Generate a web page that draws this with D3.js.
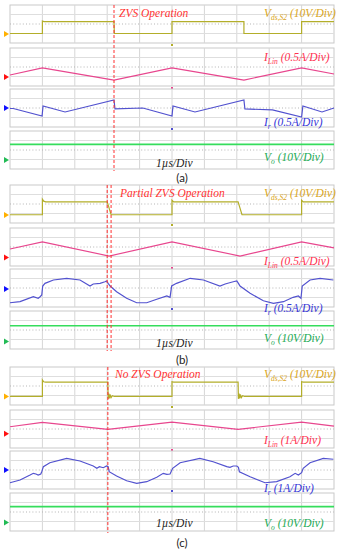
<!DOCTYPE html>
<html>
  <head>
    <title>ZVS waveforms</title>
    <style>
      body { margin: 0; background: #fff; }
    </style>
  </head>
  <body>
    <div id="chart"></div>
  </body>
  <script src="https://d3js.org/d3.v7.min.js"></script>
  <script>

    // ---- data (time in us, amplitude in screen divisions of each strip) ----
    let panelNames = ["(a)", "(b)", "(c)"];
    let modeLabels = ["ZVS Operation", "Partial ZVS Operation", "No ZVS Operation"];
    let iLinScales = ["(0.5A/Div)", "(0.5A/Div)", "(1A/Div)"];
    let irScales = ["(0.5A/Div)", "(0.5A/Div)", "(1A/Div)"];
    let cursorTimes = [[3.21], [3.0, 3.12], [3.02]];
    // ground markers on the left: Vds, ILin, Ir, Vo
    let markerLevels = [
      [-1.05, -1.05, 0, -1.05],
      [-1.15, -1.1, -0.1, -1.2],
      [-1.1, -0.5, 0, -1.1]
    ];
    let voLevels = [0.6, 0.45, 0.56];

    let vdsA = [[0,-1.0],[1.0,-1.0],[1.0,0.3],[1.05,0.25],[3.21,0.25],[3.22,-1.0],[5.0,-1.0],[5.0,0.25],
      [7.22,0.25],[7.22,-1.0],[9.0,-1.0],[9.0,0.25],[10,0.25]];
    let vdsB = [[0,-1.13],[1.0,-1.13],[1.0,0.5],[1.04,0.3],[1.1,0.22],[3.0,0.22],[3.12,-1.13],[5.0,-1.13],
      [5.0,0.4],[5.05,0.22],[7.04,0.22],[7.16,-1.13],[9.0,-1.13],[9.0,0.4],[9.05,0.22],[10,0.22]];
    let vdsC = [[0,-1.1],[1.0,-1.1],[1.0,0.65],[1.04,0.45],[1.1,0.4],[3.02,0.4],[3.03,-1.35],[3.05,-0.8],
      [3.07,-1.3],[3.09,-0.9],[3.12,-1.22],[3.16,-1.02],[3.22,-1.1],[5.0,-1.1],[5.0,0.45],[5.05,0.4],
      [7.04,0.4],[7.05,-1.35],[7.07,-0.8],[7.09,-1.3],[7.11,-0.9],[7.14,-1.22],[7.18,-1.02],[7.24,-1.1],
      [9.0,-1.1],[9.0,0.45],[9.05,0.4],[10,0.4]];

    let iLinA = [[0,-0.84],[1.0,-0.1],[3.21,-1.37],[5.0,-0.1],[7.22,-1.37],[9.0,-0.1],[10,-0.74]];
    let iLinB = [[0,-0.21],[1.0,0.53],[3.06,-0.95],[5.0,0.53],[7.1,-0.95],[9.0,0.53],[10,-0.1]];
    let iLinC = [[0,0.24],[1.0,0.7],[3.02,-0.03],[5.0,0.72],[7.04,-0.03],[9.0,0.72],[10,0.3]];

    let irA = [[0,-0.05],[0.1,-0.05],[0.99,-0.84],[1.02,0.21],[1.7,-0.42],[3.21,0.84],[3.24,-0.1],[4.1,0],
      [5.0,-0.84],[5.03,0.21],[5.71,-0.42],[7.22,0.84],[7.25,-0.1],[8.1,-0.2],[9.0,-0.95],[9.04,0.21],
      [9.63,-0.42],[10,0]];
    let irB = [[0,-1.55],[0.31,-1.44],[0.72,-0.92],[0.87,-1.08],[0.93,-0.92],[0.98,-0.74],[1.01,0.21],
      [1.08,0.49],[1.34,0.84],[1.75,1.02],[2.16,0.84],[2.47,0.21],[2.57,0.42],[2.78,0.49],[2.93,0.66],
      [2.98,0.74],[3.03,0.49],[3.09,0.21],[3.29,-0.39],[3.6,-1.08],[3.91,-1.55],[4.22,-1.55],[4.53,-1.19],
      [4.84,-0.84],[4.94,-0.98],[4.99,0.21],[5.14,0.49],[5.56,1.02],[5.97,0.84],[6.48,0.21],[6.64,0.42],
      [6.89,0.66],[7.0,0.74],[7.05,0.49],[7.1,0.21],[7.41,-0.56],[7.82,-1.34],[8.13,-1.61],[8.44,-1.44],
      [8.74,-0.98],[8.9,-0.84],[8.98,-1.08],[9.02,0.21],[9.26,0.84],[9.57,1.02],[9.98,0.84]];
    let irC = [[0,-1.34],[0.31,-1.05],[0.62,-0.53],[0.72,-0.35],[0.8,-0.42],[0.87,-0.53],[0.95,-0.42],
      [0.98,-0.18],[1.03,0.35],[1.23,0.77],[1.75,1.23],[2.16,0.95],[2.57,0.42],[2.68,0.18],[2.76,0.35],
      [2.88,0.24],[2.98,0.42],[3.03,0.35],[3.06,-0.18],[3.29,-0.63],[3.6,-1.13],[3.91,-1.4],[4.22,-1.23],
      [4.53,-0.77],[4.73,-0.35],[4.84,-0.45],[4.94,-0.42],[5.02,0.18],[5.25,0.77],[5.86,1.23],[6.27,0.87],
      [6.69,0.35],[6.79,0.28],[6.89,0.42],[7.0,0.42],[7.05,0.28],[7.08,-0.18],[7.41,-0.71],[7.87,-1.34],
      [8.23,-1.23],[8.64,-0.71],[8.8,-0.35],[8.9,-0.53],[9.0,-0.28],[9.05,0.18],[9.26,0.77],[9.67,1.23],
      [9.98,1.13]];

    let vdsData = [vdsA, vdsB, vdsC];
    let iLinData = [iLinA, iLinB, iLinC];
    let irData = [irA, irB, irC];

    // ---- layout ----
    let width = 339, height = 550;
    let panelTops = [5, 185, 367];
    let stripOffsets = [0, 43, 84, 126];
    let stripH = 38;
    let traceColors = ["#b3ae2a", "#e8468e", "#5252cf", "#35dd5c"];
    let markerColors = ["#ffb000", "#ff1010", "#1010ff", "#22bb55"];
    let labelColors = ["#daa520", "#ff3050", "#3535d8", "#22aa55"];
    // label centre lines relative to panel top: mode, ILin, Ir, Vo, time/div
    let labelY = [
      [8, 52, 117, 152, 158],
      [8, 76, 123, 153, 158],
      [7, 73, 121, 156, 156]
    ];
    let modeX = [119, 120, 115];
    let captionY = [182, 364, 547];

    let xScale = d3.scaleLinear().domain([0, 10]).range([10, 334]);

    let svg = d3.select("#chart").append("svg")
      .attr("width", width)
      .attr("height", height)
      .style("font-family", "'Liberation Serif', serif");

    panelTops.forEach(function(top, p) {
      let g = svg.append("g");

      stripOffsets.forEach(function(off, s) {
        let y0 = top + off;
        let yScale = d3.scaleLinear().domain([-2, 2]).range([y0 + stripH, y0]);

        // grid
        g.append("rect")
          .attr("x", xScale(0)).attr("y", y0)
          .attr("width", xScale(10) - xScale(0)).attr("height", stripH)
          .attr("fill", "none").attr("stroke", "#c9c9c9").attr("stroke-width", 1);
        g.selectAll(null).data(d3.range(1, 10)).enter().append("line")
          .attr("x1", d => xScale(d)).attr("x2", d => xScale(d))
          .attr("y1", y0).attr("y2", y0 + stripH)
          .attr("stroke", "#d6d6d6");
        g.selectAll(null).data([-1, 1]).enter().append("line")
          .attr("x1", xScale(0)).attr("x2", xScale(10))
          .attr("y1", d => yScale(d)).attr("y2", d => yScale(d))
          .attr("stroke", "#dedede");
        g.append("line")
          .attr("x1", xScale(0)).attr("x2", xScale(10))
          .attr("y1", yScale(0)).attr("y2", yScale(0))
          .attr("stroke", "#b5b5b5").attr("stroke-dasharray", "1,2.2");

        // ground marker
        let my = yScale(markerLevels[p][s]);
        g.append("path")
          .attr("d", `M4,${my - 3}L9,${my}L4,${my + 3}Z`)
          .attr("fill", markerColors[s]);

        // trace
        let line = d3.line().x(d => xScale(d[0])).y(d => yScale(d[1]));
        let pts;
        if (s === 0) pts = vdsData[p];
        else if (s === 1) pts = iLinData[p];
        else if (s === 2) pts = irData[p];
        else pts = [[0, voLevels[p]], [10, voLevels[p]]];
        g.append("path")
          .attr("d", line(pts))
          .attr("fill", "none")
          .attr("stroke", traceColors[s])
          .attr("stroke-width", s === 3 ? 1.7 : 1.2);

        // small trigger tick under the upper strips
        if (s < 3) {
          g.append("rect")
            .attr("x", xScale(5) - 1).attr("y", y0 + stripH + 1)
            .attr("width", 2).attr("height", 2)
            .attr("fill", traceColors[s]);
        }
      });

      // cursors
      let yTop = top, yBot = top + stripOffsets[3] + stripH + 2;
      g.selectAll(null).data(cursorTimes[p]).enter().append("line")
        .attr("x1", d => xScale(d)).attr("x2", d => xScale(d))
        .attr("y1", yTop).attr("y2", yBot)
        .attr("stroke", "#ff3030").attr("stroke-width", 1)
        .attr("stroke-dasharray", "3,2");

      let ly = labelY[p];
      // mode label
      g.append("text")
        .attr("x", modeX[p]).attr("y", top + ly[0] + 4)
        .attr("font-size", 11.5).attr("font-style", "italic")
        .attr("fill", "#ff3333")
        .text(modeLabels[p]);

      // channel labels
      function chanLabel(y, main, sub, scale, color) {
        let t = g.append("text")
          .attr("x", 264).attr("y", y)
          .attr("font-size", 11.5).attr("font-style", "italic")
          .attr("fill", color);
        t.append("tspan").text(main);
        t.append("tspan").attr("font-size", 7.5).attr("dy", 3).text(sub);
        t.append("tspan").attr("dy", -3).text(" " + scale);
      }
      chanLabel(top + ly[0] + 4, "V", "ds,S2", "(10V/Div)", labelColors[0]);
      chanLabel(top + ly[1] + 4, "I", "Lin", iLinScales[p], labelColors[1]);
      chanLabel(top + ly[2] + 4, "I", "r", irScales[p], labelColors[2]);
      chanLabel(top + ly[3] + 4, "V", "o", "(10V/Div)", labelColors[3]);

      g.append("text")
        .attr("x", 156).attr("y", top + ly[4] + 4)
        .attr("font-size", 11.5).attr("font-style", "italic")
        .attr("fill", "#222")
        .text("1\u00b5s/Div");

      svg.append("text")
        .attr("x", 182).attr("y", captionY[p])
        .attr("text-anchor", "middle")
        .attr("font-family", "Lato, 'Open Sans', sans-serif")
        .attr("font-size", 11.5)
        .attr("fill", "#222")
        .text(panelNames[p]);
    });

  </script>
</html>
